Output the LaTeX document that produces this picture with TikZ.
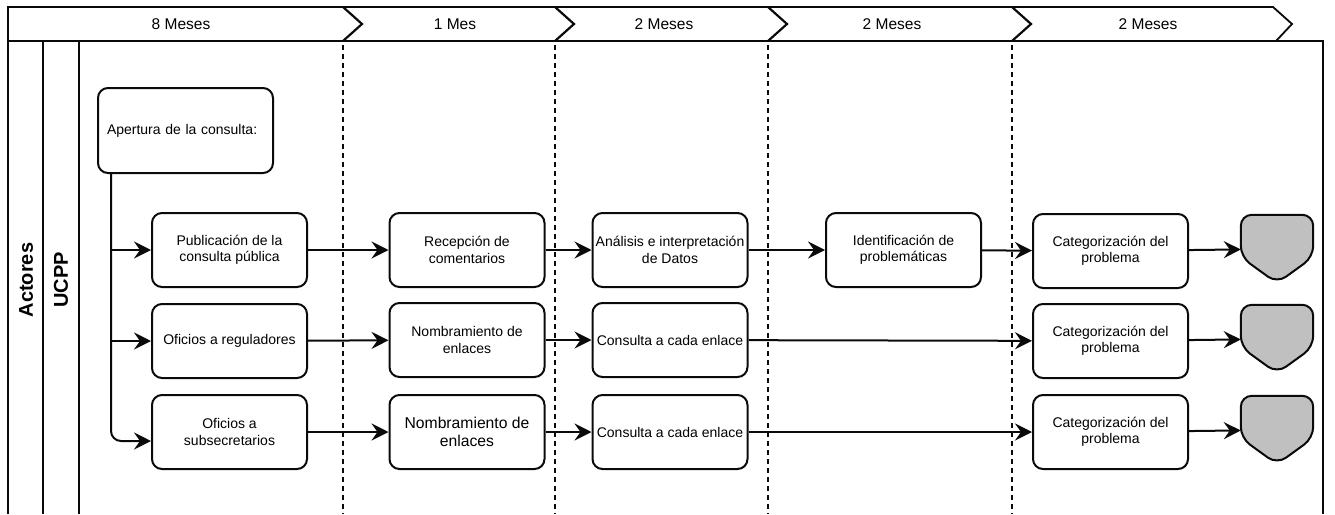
\documentclass[tikz,border=0pt]{standalone}
\usepackage{fontspec}
\setmainfont{Liberation Sans}
\usepackage{tikz}
\usetikzlibrary{arrows.meta}
\definecolor{endgray}{RGB}{192,192,192}
\definecolor{inkblack}{RGB}{10,10,10}

\newcommand{\offpage}[2]{%
  \node[endslot] (#1) at (#2) {};
  \draw[endshape] ([yshift=-8pt]#1.west) -- (#1.north west) -- (#1.north east)
    -- ([yshift=-8pt]#1.east) -- (#1.south) -- cycle;}

\begin{document}
\begin{tikzpicture}[x=1pt,y=-1pt,
  task/.style={draw=inkblack,line width=2pt,rounded corners=10pt,
    minimum width=155pt,minimum height=74pt,align=center,inner sep=2pt,
    font=\fontsize{14}{16.5}\selectfont},
  flow/.style={draw=inkblack,line width=2pt,
    -{Stealth[length=17pt,width=17pt,inset=6pt]}},
  endslot/.style={minimum width=72pt,minimum height=68pt,inner sep=0pt},
  endshape/.style={draw=inkblack,fill=endgray,line width=2pt,rounded corners=11pt},
  hdr/.style={draw=inkblack,line width=1.8pt},
  pool/.style={draw=inkblack,line width=2.4pt},
  lanesep/.style={draw=inkblack,line width=1.8pt,dash pattern=on 5pt off 4pt},
  period/.style={font=\fontsize{15.5}{18}\selectfont},
  lanelabel/.style={rotate=90,font=\bfseries\fontsize{20}{24}\selectfont}]
  \useasboundingbox (0,0) rectangle (1335,514);
  % header with periods
  \draw[hdr] (8,41) -- (8,7) -- (1273,7) -- (1292,24) -- (1276,41);
  \foreach \x in {343,555,768,1012}
    \draw[hdr,line width=2.2pt] (\x,7) -- (\x+19,24) -- (\x,41);
  \node[period] (p1) at (181,24) {8 Meses};
  \node[period] (p2) at (455,24) {1 Mes};
  \node[period] (p3) at (664,24) {2 Meses};
  \node[period] (p4) at (892,24) {2 Meses};
  \node[period] (p5) at (1148,24) {2 Meses};
  % pool and lanes
  \draw[pool] (8,514) -- (8,41) -- (1323,41) -- (1323,514);
  \draw[pool] (43,41) -- (43,514);
  \draw[pool] (79,41) -- (79,514);
  \foreach \x in {343,555,768,1012}
    \draw[lanesep] (\x,45) -- (\x,514);
  \node[lanelabel] (actores) at (26,280) {Actores};
  \node[lanelabel] (ucpp) at (61,280) {UCPP};
  % tasks
  \node[task,minimum width=175pt,minimum height=85pt,text width=157pt,align=left,
    inner xsep=9pt] (apertura) at (185.5,130.5) {Apertura de la consulta:};
  \node[task] (pub) at (229.5,250) {Publicación de la\\consulta pública};
  \node[task] (rec) at (467,250) {Recepción de\\comentarios};
  \node[task] (ana) at (670,250) {Análisis e interpretación\\de Datos};
  \node[task] (ide) at (903.5,250) {Identificación de\\problemáticas};
  \node[task] (cat1) at (1110.5,251) {Categorización del\\problema};
  \node[task] (ofr) at (229.5,341) {Oficios a reguladores};
  \node[task] (nom2) at (467,340) {Nombramiento de\\enlaces};
  \node[task] (con2) at (670,340) {Consulta a cada enlace};
  \node[task] (cat2) at (1110.5,341) {Categorización del\\problema};
  \node[task] (ofs) at (229.5,432) {Oficios a\\subsecretarios};
  \node[task,font=\fontsize{15.7}{18}\selectfont] (nom3) at (467,432) {Nombramiento de\\enlaces};
  \node[task] (con3) at (670,432) {Consulta a cada enlace};
  \node[task] (cat3) at (1110.5,432) {Categorización del\\problema};
  \offpage{end1}{1277,249}
  \offpage{end2}{1277,339}
  \offpage{end3}{1277,430}
  % connectors
  \coordinate (tr) at ([xshift=14pt]apertura.south west);
  \draw[flow] (tr) |- (pub.west);
  \draw[flow] (tr) |- (ofr.west);
  \draw[flow,rounded corners=10pt] (tr) |- ([yshift=-9pt]ofs.west);
  \draw[flow] (pub) -- (rec);
  \draw[flow] (rec) -- (ana);
  \draw[flow] (ana) -- (ide);
  \draw[flow] (ide) -- (cat1);
  \draw[flow] (cat1) -- (end1);
  \draw[flow] (ofr) -- (nom2);
  \draw[flow] (nom2) -- (con2);
  \draw[flow] (con2) -- (cat2);
  \draw[flow] (cat2) -- (end2);
  \draw[flow] (ofs) -- (nom3);
  \draw[flow] (nom3) -- (con3);
  \draw[flow] (con3) -- (cat3);
  \draw[flow] (cat3) -- (end3);
\end{tikzpicture}
\end{document}
